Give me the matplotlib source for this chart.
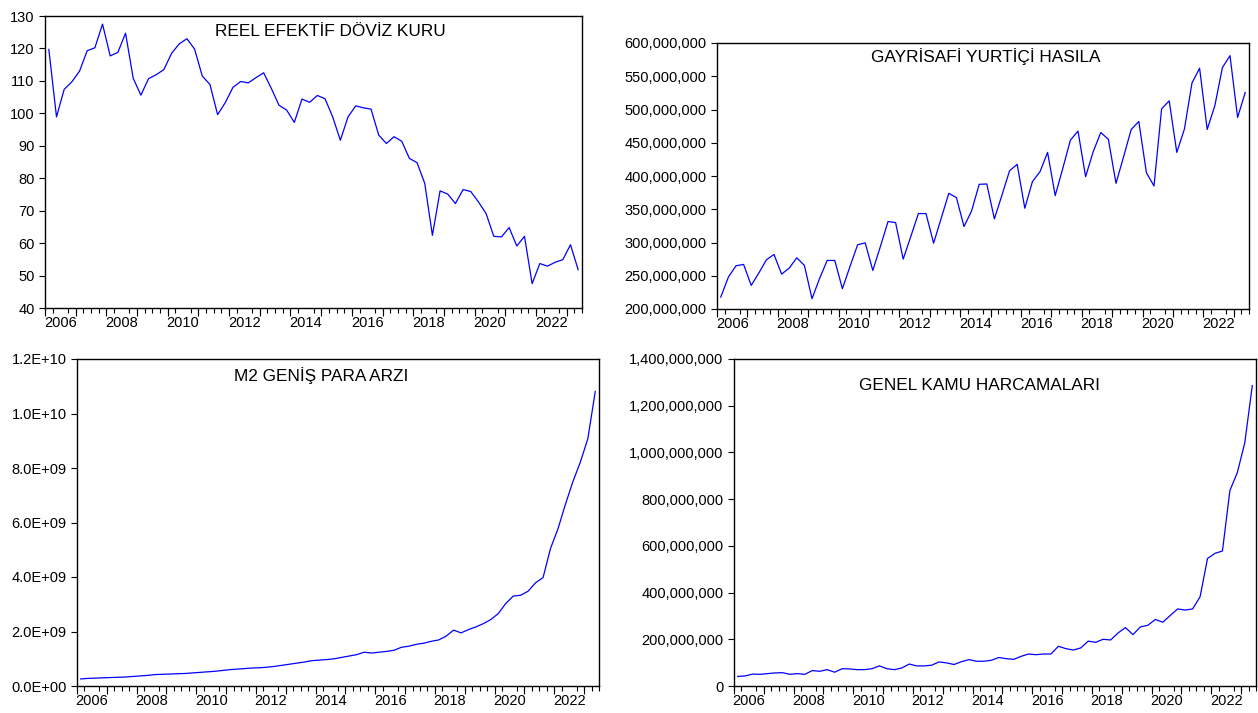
import matplotlib
matplotlib.use("Agg")
import matplotlib.pyplot as plt
from matplotlib.ticker import FuncFormatter
import numpy as np

plt.rcParams['font.family'] = ['Liberation Sans', 'DejaVu Sans']

# quarterly data, 2006Q1 - 2023Q2
first_year = 2006
label_years = [2006, 2008, 2010, 2012, 2014, 2016, 2018, 2020, 2022]

reer = [119.7, 98.9, 107.4, 109.7, 113.0, 119.3, 120.2, 127.5, 117.7, 118.8,
        124.7, 110.8, 105.6, 110.7, 111.9, 113.5, 118.5, 121.4, 123.0, 119.8,
        111.5, 108.9, 99.6, 103.3, 108.0, 109.8, 109.4, 111.0, 112.5, 107.7,
        102.5, 101.0, 97.2, 104.4, 103.4, 105.5, 104.5, 98.9, 91.7, 98.9,
        102.3, 101.7, 101.3, 93.3, 90.7, 92.8, 91.4, 86.1, 84.8, 78.4,
        62.4, 76.1, 75.1, 72.2, 76.5, 75.9, 72.7, 69.1, 62.1, 61.9,
        64.8, 59.1, 62.1, 47.5, 53.7, 52.9, 54.1, 54.9, 59.5, 51.8]

gdp_m = [218, 248, 265, 267, 235.5, 254, 274, 282, 252.5, 261.5,
         277, 265.5, 215.5, 246, 273, 273, 230.5, 264, 296.5, 299.5,
         258, 294, 331.5, 330, 275, 309, 343.5, 343.5, 299, 336.5,
         374, 367.5, 324, 347.5, 387.5, 388, 335.5, 371.5, 408, 417.5,
         351.5, 391.5, 406.5, 435.5, 370.5, 411.5, 454, 467.5, 399, 436.5,
         465.5, 455, 389, 429, 470, 482, 405, 385, 501, 513,
         435.5, 470.5, 540, 562, 470, 505.5, 563, 581, 488, 525.5]

m2_b = [0.26, 0.28, 0.29, 0.30, 0.31, 0.32, 0.33, 0.35, 0.37, 0.39,
        0.42, 0.43, 0.44, 0.45, 0.46, 0.48, 0.50, 0.52, 0.54, 0.57,
        0.60, 0.62, 0.64, 0.66, 0.67, 0.69, 0.72, 0.76, 0.80, 0.84,
        0.88, 0.93, 0.95, 0.97, 1.00, 1.05, 1.10, 1.15, 1.24, 1.21,
        1.24, 1.27, 1.31, 1.42, 1.46, 1.53, 1.57, 1.64, 1.69, 1.83,
        2.05, 1.95, 2.07, 2.17, 2.29, 2.44, 2.66, 3.03, 3.30, 3.33,
        3.48, 3.79, 3.98, 5.05, 5.77, 6.67, 7.50, 8.22, 9.07, 10.81]

spend_m = [41, 43, 51, 50, 53, 56, 57, 50, 53, 50,
           66, 63, 70, 59, 74, 73, 70, 70, 74, 86,
           74, 70, 77, 94, 86, 86, 89, 103, 99, 92,
           104, 113, 106, 106, 110, 122, 117, 114, 127, 137,
           134, 137, 137, 170, 160, 154, 163, 192, 187, 200,
           197, 227, 250, 220, 253, 260, 285, 273, 302, 330,
           325, 330, 382, 546, 568, 578, 837, 914, 1042, 1286]

W, H = 1258, 713
fig = plt.figure(figsize=(W / 100, H / 100), dpi=100)
fig.patch.set_facecolor('white')


def add_axes(left, right, top, bottom):
    return fig.add_axes([left / W, 1 - bottom / H, (right - left) / W, (bottom - top) / H])


def style(ax, n):
    x_end = n - 0.5
    ax.set_xlim(-0.5, x_end)
    for s in ax.spines.values():
        s.set_linewidth(1.0)
    # year labels at the middle of each year
    centers = [(y - first_year) * 4 + 1.5 for y in label_years]
    ax.set_xticks(centers)
    ax.set_xticklabels([str(y) for y in label_years])
    ax.set_xticks(np.arange(-0.5, x_end + 0.01, 1), minor=True)
    ax.tick_params(axis='x', which='major', length=0, pad=6, labelsize=10.5)
    ax.tick_params(axis='x', which='minor', length=3.5, width=0.8, direction='out')
    ax.tick_params(axis='y', length=4.5, width=0.8, pad=3, labelsize=10.5, direction='out')
    sec = ax.secondary_xaxis('bottom')
    sec.set_xticks(np.arange(-0.5, x_end + 0.01, 4))
    sec.tick_params(length=6, width=0.8, labelbottom=False)
    sec.spines['bottom'].set_visible(False)


def title(text, cx, cy):
    fig.text(cx / W, 1 - cy / H, text, ha='center', va='center', fontsize=12.4)


x = np.arange(len(reer))
line_kw = dict(color='#0000ff', lw=0.9)

# REER
ax1 = add_axes(45, 582, 16, 308)
ax1.plot(x, reer, **line_kw)
ax1.set_ylim(40, 130)
ax1.set_yticks(np.arange(40, 131, 10))
style(ax1, len(reer))
title('REEL EFEKTİF DÖVİZ KURU', 330, 32)

# GDP
ax2 = add_axes(717, 1249, 43, 309)
ax2.plot(x, np.array(gdp_m) * 1e6, **line_kw)
ax2.set_ylim(2e8, 6e8)
ax2.set_yticks(np.arange(2e8, 6.01e8, 5e7))
ax2.yaxis.set_major_formatter(FuncFormatter(lambda v, p: f'{v:,.0f}'))
style(ax2, len(gdp_m))
title('GAYRİSAFİ YURTİÇİ HASILA', 986, 57)

# M2
ax3 = add_axes(77, 599, 359, 686)
ax3.plot(x, np.array(m2_b) * 1e9, **line_kw)
ax3.set_ylim(0, 1.2e10)
ax3.set_yticks(np.arange(0, 1.21e10, 2e9))
ax3.yaxis.set_major_formatter(FuncFormatter(lambda v, p: f'{v:.1E}'))
style(ax3, len(m2_b))
title('M2 GENİŞ PARA ARZI', 321, 376)

# Spending
ax4 = add_axes(734, 1256, 359, 686)
ax4.plot(x, np.array(spend_m) * 1e6, **line_kw)
ax4.set_ylim(0, 1.4e9)
ax4.set_yticks(np.arange(0, 1.41e9, 2e8))
ax4.yaxis.set_major_formatter(FuncFormatter(lambda v, p: f'{v:,.0f}'))
style(ax4, len(spend_m))
title('GENEL KAMU HARCAMALARI', 979, 385)

fig.savefig('out.png', dpi=100, facecolor='white')
